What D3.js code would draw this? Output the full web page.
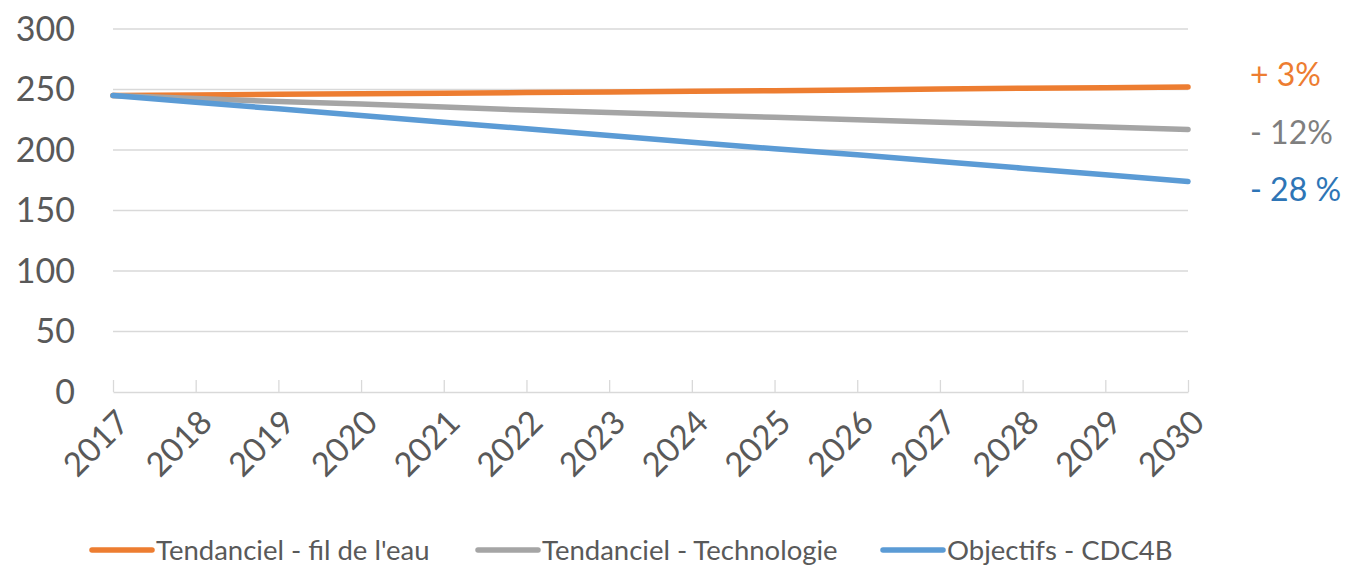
<!DOCTYPE html>
<html>
<head>
<meta charset="utf-8">
<script src="https://cdn.jsdelivr.net/npm/d3@7"></script>
<style>
  body { margin: 0; background: #fff; }
  svg { display: block; font-family: Lato, sans-serif; }
</style>
</head>
<body>
<div id="chart-area"></div>
<script>
// years on the category axis
const years = [2017, 2018, 2019, 2020, 2021, 2022, 2023, 2024, 2025, 2026, 2027, 2028, 2029, 2030];

// values
const filDeLeau   = [245, 245.5, 246, 246.5, 247, 247.5, 248, 248.5, 249, 249.5, 250.5, 251, 251.5, 252];
const technologie = [245, 242.5, 240, 238, 235.5, 233, 231, 229, 227, 225, 223, 221, 219, 217];
const objectifs   = [245, 239.5, 234, 228.5, 223, 217.5, 212, 206.5, 201, 196, 190.5, 185, 179.5, 174];

const seriesNames = ["Tendanciel - fil de l'eau", "Tendanciel - Technologie", "Objectifs - CDC4B"];
const endLabels = ["+ 3%", "- 12%", "- 28 %"];
const yTicks = [0, 50, 100, 150, 200, 250, 300];

const width = 1350, height = 565;
const margin = {top: 29, right: 162, bottom: 173, left: 113};

const lineColors = ["#ED7D31", "#A5A5A5", "#5B9BD5"];
const labelColors = ["#ED7D31", "#7F7F7F", "#2E75B6"];

const series = [filDeLeau, technologie, objectifs].map((vals, i) => ({
    name: seriesNames[i],
    label: endLabels[i],
    values: vals.map((v, j) => ({year: years[j], value: v}))
}));

const svg = d3.select("#chart-area")
    .append("svg")
    .attr("width", width)
    .attr("height", height);

const x = d3.scalePoint()
    .domain(years)
    .range([margin.left, width - margin.right]);

const y = d3.scaleLinear()
    .domain([0, 300])
    .range([height - margin.bottom, margin.top]);

// gridlines
svg.append("g")
    .selectAll("line")
    .data(yTicks.filter(d => d > 0))
    .join("line")
    .attr("x1", margin.left)
    .attr("x2", width - margin.right)
    .attr("y1", d => y(d))
    .attr("y2", d => y(d))
    .attr("stroke", "#D9D9D9")
    .attr("stroke-width", 1.3);

// y labels
svg.append("g")
    .selectAll("text")
    .data(yTicks)
    .join("text")
    .attr("x", 75)
    .attr("y", d => y(d))
    .attr("dy", "0.35em")
    .attr("text-anchor", "end")
    .attr("fill", "#595959")
    .attr("font-size", 34)
    .text(d => d);

// x axis, ticks pointing up
const xAxis = svg.append("g")
    .attr("transform", `translate(0,${y(0)})`)
    .call(d3.axisBottom(x).tickSizeInner(-12).tickSizeOuter(0).tickFormat(""));
xAxis.select(".domain").attr("stroke", "#D9D9D9").attr("stroke-width", 1.3);
xAxis.selectAll(".tick line").attr("stroke", "#D9D9D9").attr("stroke-width", 1.3);

svg.append("g")
    .selectAll("text")
    .data(years)
    .join("text")
    .attr("transform", d => `translate(${x(d) + 2},${y(0) + 16}) rotate(-45)`)
    .attr("text-anchor", "end")
    .attr("dy", "0.7em")
    .attr("fill", "#595959")
    .attr("font-size", 33)
    .text(d => d);

// lines
const line = d3.line()
    .x(d => x(d.year))
    .y(d => y(d.value));

svg.append("g")
    .selectAll("path")
    .data(series)
    .join("path")
    .attr("d", d => line(d.values))
    .attr("fill", "none")
    .attr("stroke", (d, i) => lineColors[i])
    .attr("stroke-width", 5.5)
    .attr("stroke-linecap", "round");

// percentage labels at the right
svg.append("g")
    .selectAll("text")
    .data(series)
    .join("text")
    .attr("x", 1250)
    .attr("y", (d, i) => [75, 133, 190][i])
    .attr("dy", "0.35em")
    .attr("fill", (d, i) => labelColors[i])
    .attr("font-size", 32)
    .text(d => d.label);

// legend
const legendX = [92, 478, 883];
const legend = svg.append("g")
    .selectAll("g")
    .data(series)
    .join("g")
    .attr("transform", (d, i) => `translate(${legendX[i]},550)`);

legend.append("line")
    .attr("x1", 0)
    .attr("x2", 60)
    .attr("stroke", (d, i) => lineColors[i])
    .attr("stroke-width", 5.5)
    .attr("stroke-linecap", "round");

legend.append("text")
    .attr("x", 64)
    .attr("dy", "0.35em")
    .attr("fill", "#595959")
    .attr("font-size", 27.5)
    .text(d => d.name);
</script>
</body>
</html>
